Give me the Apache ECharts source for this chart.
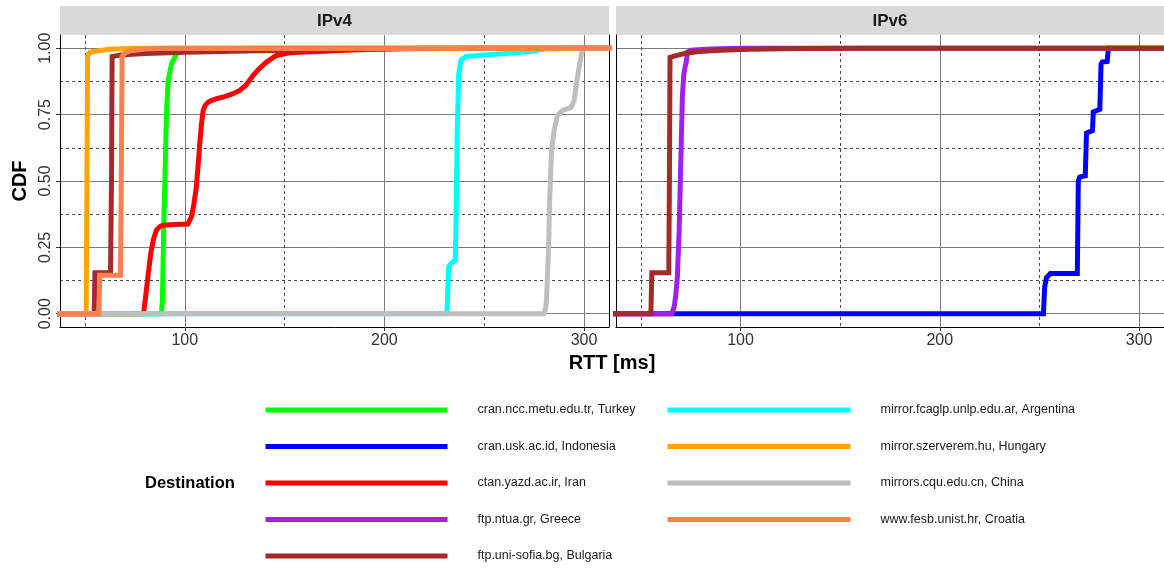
<!DOCTYPE html>
<html>
<head>
<meta charset="utf-8">
<script src="https://cdn.jsdelivr.net/npm/echarts@6/dist/echarts.min.js"></script>
<style>
html,body{margin:0;padding:0;background:#fff;}
#chart{width:1164px;height:569px;}
</style>
</head>
<body>
<div id="chart"></div>
<script>
// ---------- data (RTT in ms, CDF value) ----------
const panels = ['IPv4', 'IPv6'];
const xTicks = [100, 200, 300];
const xMinorTicks = [50, 150, 250];
const yTicks = [0, 0.25, 0.5, 0.75, 1];
const yMinorTicks = [0.125, 0.375, 0.625, 0.875];

const names = {
  turkey: 'cran.ncc.metu.edu.tr, Turkey',
  indonesia: 'cran.usk.ac.id, Indonesia',
  iran: 'ctan.yazd.ac.ir, Iran',
  greece: 'ftp.ntua.gr, Greece',
  bulgaria: 'ftp.uni-sofia.bg, Bulgaria',
  argentina: 'mirror.fcaglp.unlp.edu.ar, Argentina',
  hungary: 'mirror.szerverem.hu, Hungary',
  china: 'mirrors.cqu.edu.cn, China',
  croatia: 'www.fesb.unist.hr, Croatia'
};

// IPv4
const v4Turkey = [[0,0],[88.3,0],[88.8,0.05],[89.5,0.34],[90.2,0.55],[90.8,0.75],[91.7,0.88],[93.3,0.94],[95.8,0.979],[98.3,0.989],[105,0.995],[130,1],[400,1]];
const v4Iran = [[0,0],[79.0,0],[79.5,0.01],[80.5,0.07],[81.7,0.15],[83,0.23],[84.2,0.277],[85.8,0.315],[87.5,0.328],[89.2,0.333],[95,0.336],[101.5,0.338],[103.3,0.365],[104.5,0.41],[105.8,0.477],[106.7,0.56],[107.5,0.64],[108.3,0.71],[109.2,0.766],[110.3,0.785],[111.7,0.797],[113.3,0.803],[115.8,0.81],[120,0.818],[124.2,0.829],[127.5,0.841],[130.5,0.86],[134.2,0.897],[137.5,0.925],[140.8,0.947],[145.8,0.973],[152.5,0.983],[160.8,0.986],[170,0.989],[177.5,0.992],[190,0.995],[210,0.998],[250,1],[400,1]];
const v4Bulgaria = [[0,0],[54.6,0],[55.0,0.154],[62.8,0.154],[63.3,0.5],[63.6,0.969],[68,0.975],[80,0.98],[100,0.985],[130,0.99],[170,0.995],[220,1],[400,1]];
const v4Argentina = [[0,0],[231.3,0],[231.8,0.1],[232.2,0.177],[233,0.185],[234.2,0.195],[235.5,0.2],[236,0.4],[236.5,0.7],[237.2,0.9],[238.3,0.955],[240.8,0.969],[250,0.975],[257.5,0.978],[266,0.983],[274.2,0.99],[280,0.997],[290,1],[400,1]];
const v4Hungary = [[0,0],[50.6,0],[51.0,0.5],[51.3,0.97],[52.5,0.985],[56,0.99],[62,0.996],[75,1],[400,1]];
const v4China = [[0,0],[279.8,0],[280.6,0.015],[281.2,0.052],[282.2,0.24],[282.8,0.427],[283.7,0.615],[285,0.69],[286.7,0.747],[289.2,0.766],[293.3,0.776],[294.3,0.79],[295,0.803],[296.2,0.866],[297.5,0.928],[298.8,0.985],[300,1],[400,1]];
const v4Croatia = [[0,0],[57.0,0],[57.4,0.145],[67.8,0.145],[68.2,0.5],[68.6,0.97],[70,0.982],[73,0.991],[80,0.997],[90,1],[400,1]];

// IPv6
const v6Indonesia = [[0,0],[252,0],[252.6,0.1],[253.5,0.135],[255.5,0.152],[269.0,0.152],[269.5,0.5],[270.2,0.515],[273.0,0.52],[273.6,0.68],[274.5,0.685],[276.6,0.69],[277.0,0.76],[277.8,0.765],[280.3,0.77],[280.9,0.94],[281.5,0.948],[284.0,0.95],[284.6,1],[400,1]];
const v6Greece = [[0,0],[65.5,0],[66.7,0.026],[67.5,0.07],[68.3,0.139],[69.2,0.315],[70,0.565],[70.8,0.816],[71.5,0.9],[72.2,0.93],[72.8,0.95],[73.3,0.985],[75,0.993],[85,0.997],[100,1],[400,1]];
const v6Bulgaria = [[0,0],[55.0,0],[55.5,0.154],[64.0,0.154],[64.3,0.5],[64.6,0.966],[68,0.973],[72.5,0.981],[79.2,0.988],[90,0.993],[105,0.996],[130,0.999],[160,1],[400,1]];

const colors = {
  turkey: '#00FF00', indonesia: '#0000FF', iran: '#FF0000', greece: '#A020F0',
  bulgaria: '#A52A2A', argentina: '#00FFFF', hungary: '#FFA500', china: '#BEBEBE', croatia: '#FF7F50'
};

// ---------- chart ----------
const FONT = '"Liberation Sans", Arial, Helvetica, sans-serif';
const X_MIN = 37.5, X_MAX = 312.5, Y_MIN = -0.05, Y_MAX = 1.05;
const majorColor = '#7a7a7a';
const minorColor = '#4d4d4d';

function xMain(grid) {
  return {
    type: 'value', gridIndex: grid, min: X_MIN, max: X_MAX, position: 'bottom',
    axisLine: { show: true, onZero: false, lineStyle: { color: '#000', width: 1 } },
    axisTick: { show: true, length: 4, customValues: xTicks, lineStyle: { color: '#333' } },
    axisLabel: { show: true, customValues: xTicks, margin: 6, fontSize: 16, color: '#333', fontFamily: FONT },
    splitLine: { show: true, lineStyle: { color: majorColor, width: 1 } }
  };
}
function xMinor(grid) {
  return {
    type: 'value', gridIndex: grid, min: X_MIN, max: X_MAX, position: 'bottom',
    axisLine: { show: false, onZero: false },
    axisTick: { show: false, customValues: xMinorTicks },
    axisLabel: { show: false },
    splitLine: { show: true, lineStyle: { color: minorColor, width: 1, type: [3, 3] } }
  };
}
function yMain(grid, withLabels) {
  return {
    type: 'value', gridIndex: grid, min: Y_MIN, max: Y_MAX, position: 'left',
    name: withLabels ? 'CDF' : '', nameLocation: 'middle', nameRotate: 90, nameGap: 30,
    nameTextStyle: { fontSize: 20, fontWeight: 'bold', color: '#000', fontFamily: FONT },
    axisLine: { show: true, onZero: false, lineStyle: { color: '#000', width: 1 } },
    axisTick: { show: withLabels, length: 4, customValues: yTicks, lineStyle: { color: '#333' } },
    axisLabel: { show: withLabels, customValues: yTicks, rotate: 90, margin: 6, fontSize: 16, color: '#333', fontFamily: FONT,
      formatter: v => v.toFixed(2) },
    splitLine: { show: true, lineStyle: { color: majorColor, width: 1 } }
  };
}
function yMinor(grid, showLine) {
  return {
    type: 'value', gridIndex: grid, min: Y_MIN, max: Y_MAX, position: 'right',
    axisLine: { show: showLine, onZero: false, lineStyle: { color: '#000', width: 1 } },
    axisTick: { show: false, customValues: yMinorTicks },
    axisLabel: { show: false },
    splitLine: { show: true, lineStyle: { color: minorColor, width: 1, type: [3, 3] } }
  };
}

function line(key, data, panel) {
  return {
    type: 'line', name: names[key], data: data,
    xAxisIndex: panel === 0 ? 0 : 2, yAxisIndex: panel === 0 ? 0 : 2,
    showSymbol: false, symbol: 'none', clip: true, silent: true,
    lineStyle: { color: colors[key], width: 5, cap: 'butt', join: 'miter' },
    itemStyle: { color: colors[key] }
  };
}

// drawing order as in the reference (factor order, later on top)
const series = [
  line('turkey', v4Turkey, 0),
  line('iran', v4Iran, 0),
  line('bulgaria', v4Bulgaria, 0),
  line('argentina', v4Argentina, 0),
  line('hungary', v4Hungary, 0),
  line('china', v4China, 0),
  line('croatia', v4Croatia, 0),
  line('indonesia', v6Indonesia, 1),
  line('greece', v6Greece, 1),
  line('bulgaria', v6Bulgaria, 1)
];

const legendCommon = {
  orient: 'vertical', padding: 0, itemGap: 22.5, itemHeight: 14, selectedMode: false,
  itemStyle: { opacity: 0 }, lineStyle: { width: 5 },
  textStyle: { fontSize: 12.5, color: '#1a1a1a', fontFamily: FONT, padding: [0, 0, 0, 25], lineHeight: 14 }
};

const option = {
  backgroundColor: '#ffffff',
  animation: false,
  textStyle: { fontFamily: FONT },
  grid: [
    { left: 60, top: 35, width: 549, height: 292, containLabel: false },
    { left: 616, top: 35, width: 548, height: 292, containLabel: false }
  ],
  xAxis: [xMain(0), xMinor(0), xMain(1), xMinor(1)],
  yAxis: [yMain(0, true), yMinor(0, true), yMain(1, false), yMinor(1, false)],
  legend: [
    Object.assign({}, legendCommon, { left: 263, top: 403, itemWidth: 182,
      data: [names.turkey, names.indonesia, names.iran, names.greece, names.bulgaria] }),
    Object.assign({}, legendCommon, { left: 665, top: 403, itemWidth: 183,
      data: [names.argentina, names.hungary, names.china, names.croatia] })
  ],
  graphic: [
    { type: 'rect', shape: { x: 60, y: 6, width: 549, height: 29 }, style: { fill: '#D9D9D9' }, silent: true, z: -1 },
    { type: 'rect', shape: { x: 616, y: 6, width: 548, height: 29 }, style: { fill: '#D9D9D9' }, silent: true, z: -1 },
    { type: 'text', x: 334.5, y: 21, style: { text: panels[0], fill: '#1a1a1a', font: 'bold 17px ' + FONT, textAlign: 'center', textVerticalAlign: 'middle' }, silent: true },
    { type: 'text', x: 890, y: 21, style: { text: panels[1], fill: '#1a1a1a', font: 'bold 17px ' + FONT, textAlign: 'center', textVerticalAlign: 'middle' }, silent: true },
    { type: 'text', x: 612, y: 363, style: { text: 'RTT [ms]', fill: '#000', font: 'bold 20px ' + FONT, textAlign: 'center', textVerticalAlign: 'middle' }, silent: true },
    { type: 'text', x: 145, y: 483, style: { text: 'Destination', fill: '#000', font: 'bold 16.5px ' + FONT, textAlign: 'left', textVerticalAlign: 'middle' }, silent: true }
  ],
  series: series
};

const chart = echarts.init(document.getElementById('chart'), null, { renderer: 'canvas' });
chart.setOption(option);
</script>
</body>
</html>
